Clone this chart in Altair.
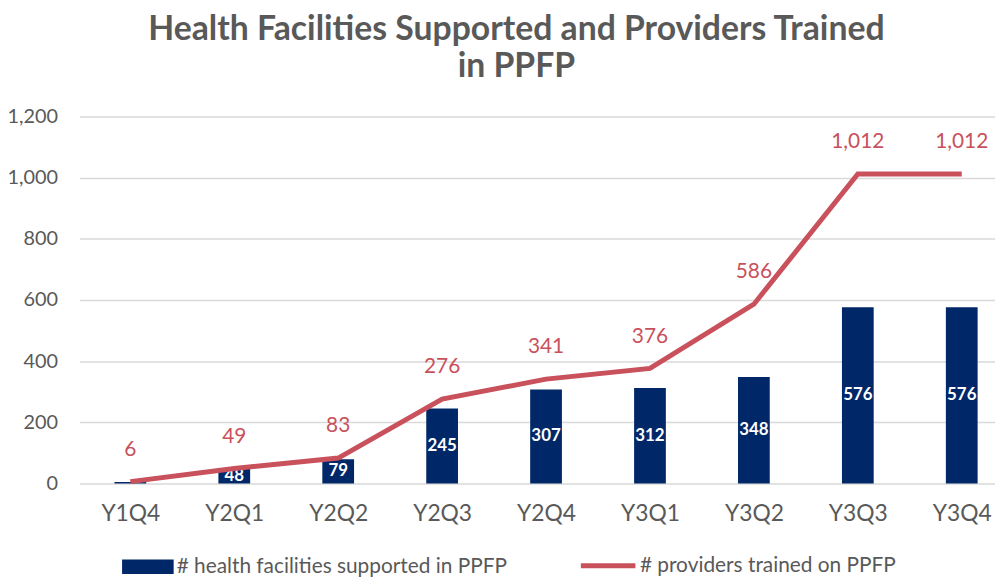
import altair as alt
import pandas as pd

quarters = ["Y1Q4", "Y2Q1", "Y2Q2", "Y2Q3", "Y2Q4", "Y3Q1", "Y3Q2", "Y3Q3", "Y3Q4"]
facilities = [5, 48, 79, 245, 307, 312, 348, 576, 576]
providers = [6, 49, 83, 276, 341, 376, 586, 1012, 1012]
bar_name = "# health facilities supported in PPFP"
line_name = "# providers trained on PPFP"
y_ticks = [0, 200, 400, 600, 800, 1000, 1200]

df = pd.DataFrame({"idx": list(range(len(quarters))), "quarter": quarters,
                   "facilities": facilities, "providers": providers})

FONT = "Lato"
GREY = "#595959"
NAVY = "#002868"
RED = "#C9515C"

names_js = "[" + ",".join(f"'{q}'" for q in quarters) + "]"

base = alt.Chart(df).transform_calculate(
    s1=f"'{bar_name}'", s2=f"'{line_name}'", mid="datum.facilities / 2"
)

xscale = alt.Scale(domain=[-0.49, 8.32], nice=False, zero=False, padding=0)
x = alt.X("idx:Q", title=None, scale=xscale,
          axis=alt.Axis(values=list(range(len(quarters))), labelExpr=f"{names_js}[datum.value]",
                        labelFontSize=23, labelColor=GREY, labelFont=FONT, grid=False,
                        ticks=False, domain=False, labelPadding=19))
xs = alt.X("idx:Q", scale=xscale)

bars = base.mark_bar(size=32).encode(
    x=x,
    y=alt.Y("facilities:Q", title=None,
            scale=alt.Scale(domain=[0, 1200], nice=False),
            axis=alt.Axis(values=y_ticks, format=",.0f", labelFontSize=20, labelColor=GREY,
                          labelFont=FONT, ticks=False, domain=False, labelPadding=22,
                          gridColor="#D9D9D9", gridWidth=1.5)),
    fill=alt.Fill("s1:N", scale=alt.Scale(domain=[bar_name], range=[NAVY]),
                  legend=alt.Legend(title=None, orient="none", legendX=43, legendY=428,
                                    symbolType="M-1,-0.28H1V0.28H-1Z", symbolSize=2704,
                                    symbolStrokeWidth=0, labelFontSize=21, labelColor=GREY,
                                    labelFont=FONT, labelOffset=3, padding=0, labelLimit=0)),
)

bar_labels = base.transform_filter("datum.facilities >= 20").mark_text(
    color="white", fontSize=17, fontWeight="bold", font=FONT
).encode(x=xs, y=alt.Y("mid:Q"), text=alt.Text("facilities:Q", format=","))

line = base.mark_line(strokeWidth=5).encode(
    x=xs,
    y=alt.Y("providers:Q"),
    stroke=alt.Stroke("s2:N", scale=alt.Scale(domain=[line_name], range=[RED]),
                      legend=alt.Legend(title=None, orient="none", legendX=503, legendY=423,
                                        symbolType="stroke", symbolSize=3025,
                                        symbolStrokeWidth=5, labelFontSize=21, labelColor=GREY,
                                        labelFont=FONT, labelOffset=2, padding=0, labelLimit=0)),
)

line_labels = base.mark_text(color=RED, fontSize=21, font=FONT, dy=-32).encode(
    x=xs, y=alt.Y("providers:Q"),
    text=alt.Text("providers:Q", format=","))

chart = alt.layer(bars, bar_labels, line, line_labels).resolve_scale(
    fill="independent", stroke="independent"
).properties(
    width=923, height=370,
    title=alt.TitleParams(["Health Facilities Supported and Providers Trained", "in PPFP"],
                          fontSize=34, font=FONT, fontWeight="bold", color=GREY,
                          anchor="middle", dx=-21, offset=23, lineHeight=37),
    autosize=alt.AutoSizeParams(type="none"),
    padding={"left": 72, "top": 107, "right": 0, "bottom": 92},
).configure_view(stroke=None)

chart.save("out.html", embed_options={"renderer": "svg", "actions": False})
